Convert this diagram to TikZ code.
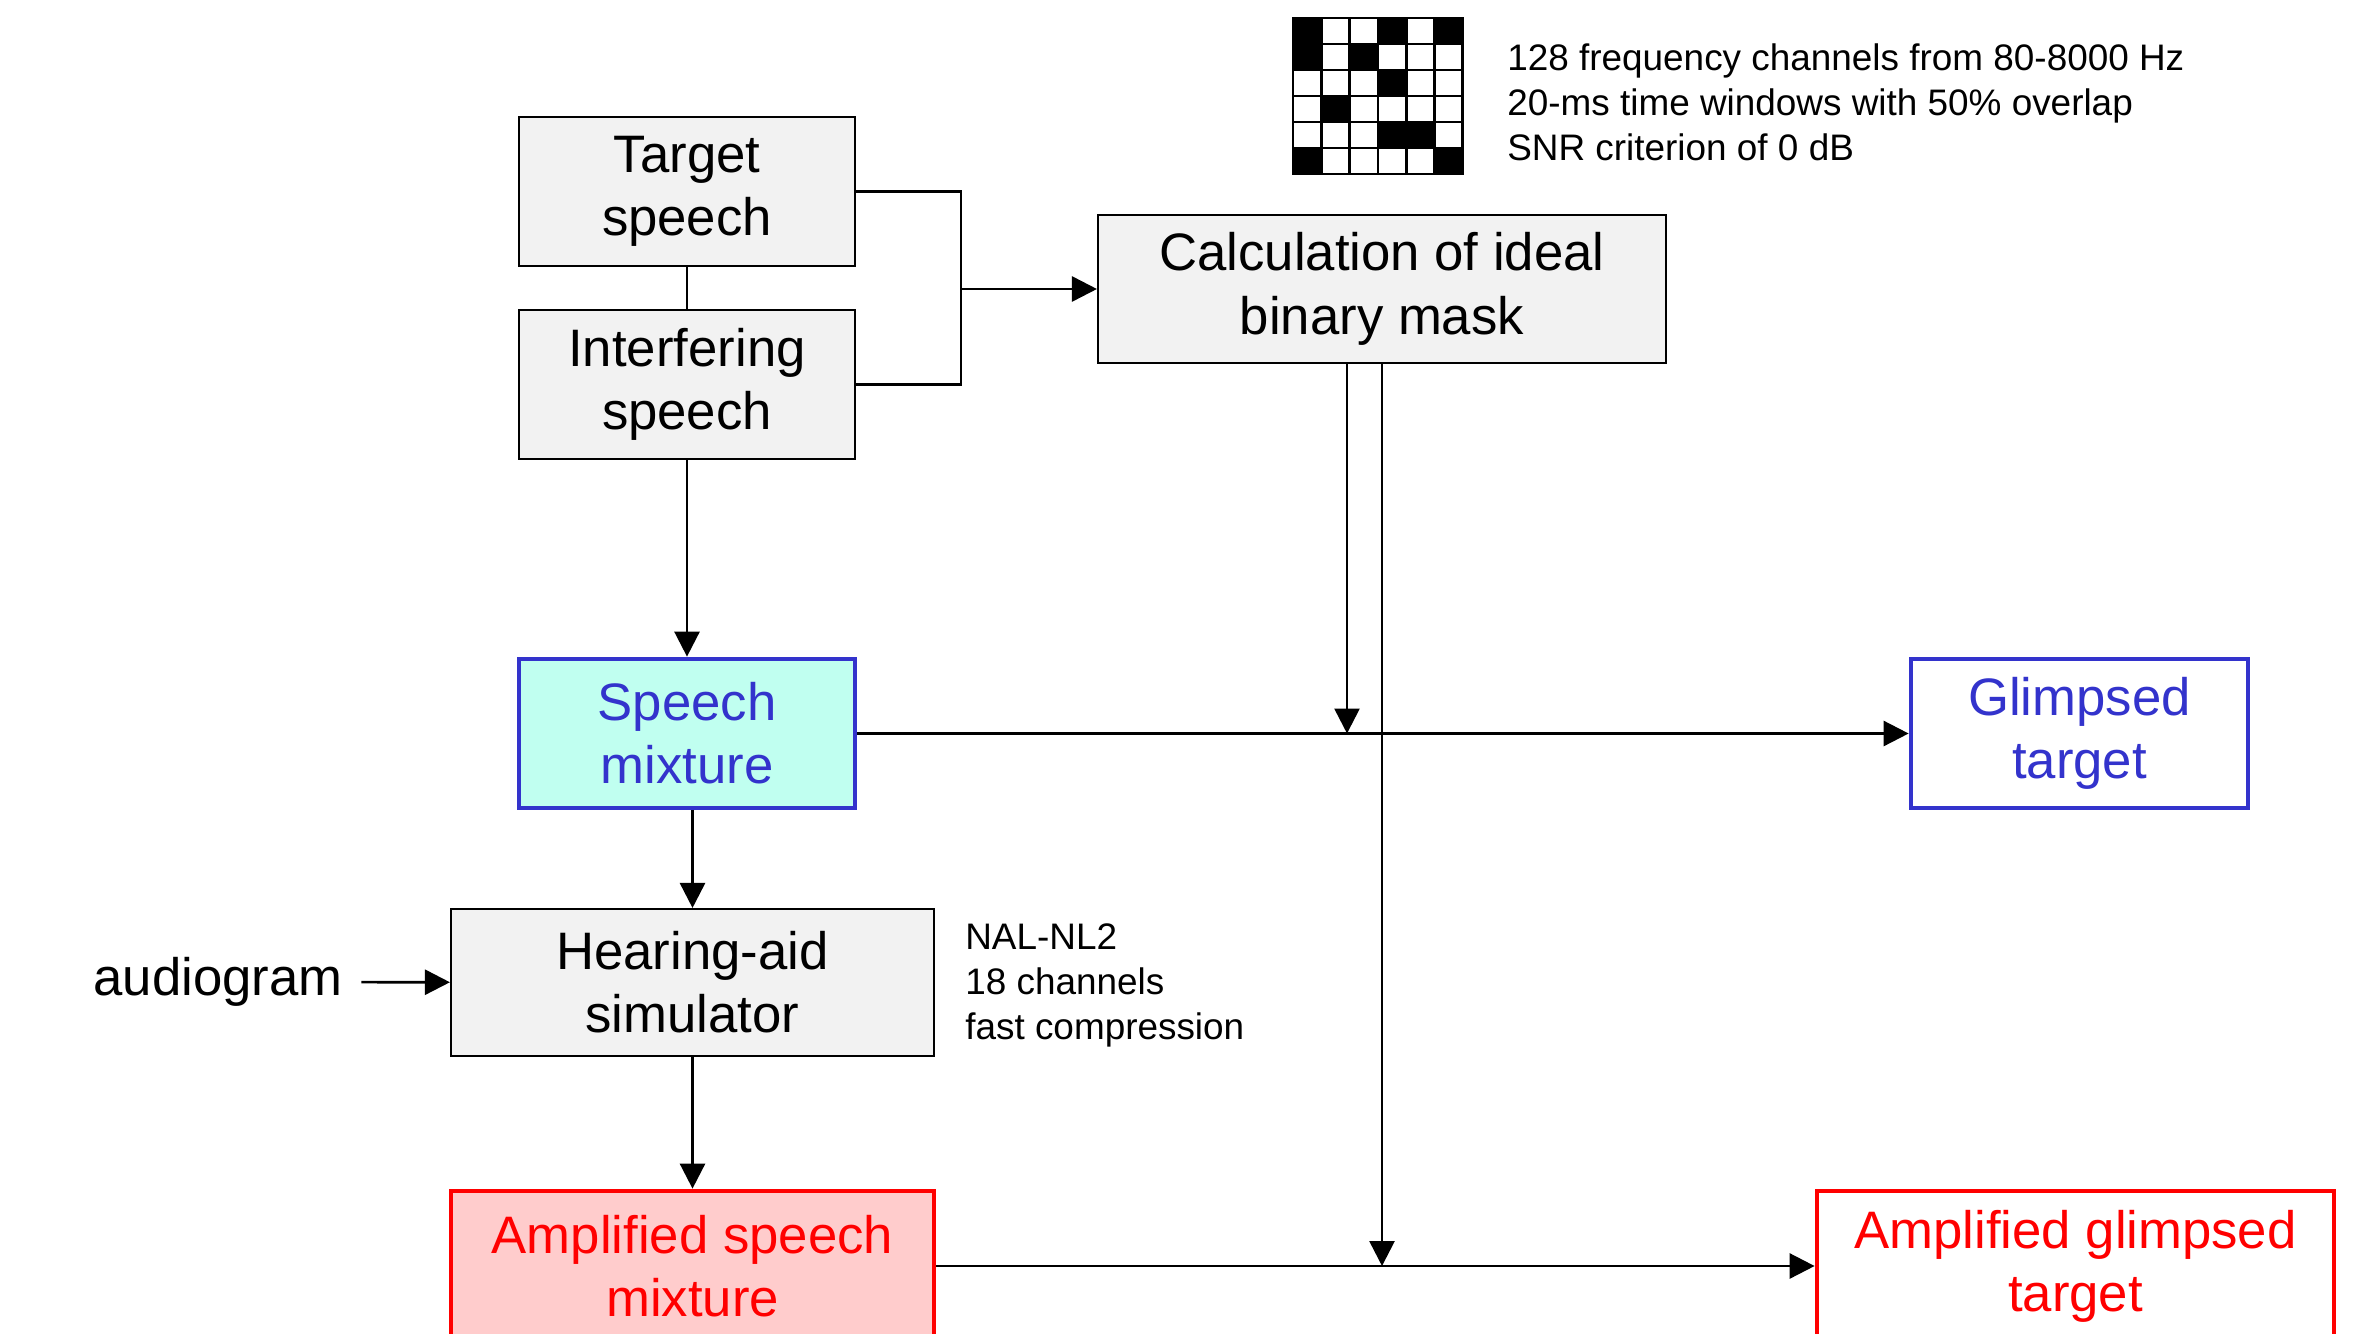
\documentclass[tikz,border=0pt]{standalone}
\usepackage{fontspec}
\setmainfont{Liberation Sans}
\usepackage{tikz}
\usetikzlibrary{arrows.meta}
\usetikzlibrary{calc,positioning}
\definecolor{boxGray}{RGB}{242,242,242}
\definecolor{mixBlue}{RGB}{51,51,204}
\definecolor{mixCyan}{RGB}{192,255,240}
\definecolor{ampRed}{RGB}{255,0,0}
\definecolor{ampPink}{RGB}{255,204,204}

\begin{document}
\begin{tikzpicture}[x=1cm,y=-1cm,line width=0.75pt,
    >={Triangle[length=0.25cm,width=0.25cm]},
    every node/.style={rectangle,inner sep=0pt},
    plainBox/.style={draw,line width=0.6pt,fill=boxGray,align=center,font=\fontsize{15}{18}\selectfont},
    mixBox/.style={draw=mixBlue,line width=1.35pt,text=mixBlue,align=center,font=\fontsize{15}{18}\selectfont},
    ampBox/.style={draw=ampRed,line width=1.35pt,text=ampRed,align=center,font=\fontsize{15}{18}\selectfont},
    note/.style={align=left,anchor=west,font=\fontsize{10.5}{12.8}\selectfont},
    ]
    \useasboundingbox (0,0) rectangle (23.59,13.34);
    \clip (0,0) rectangle (23.59,13.34);

    % sources and mask
    \node[plainBox, minimum width=3.36cm, minimum height=1.49cm] (target) at (6.87,1.915) {Target\\speech};
    \node[plainBox, minimum width=3.36cm, minimum height=1.49cm, below=0.42cm of target] (interferer) {Interfering\\speech};
    \node[plainBox, minimum width=5.68cm, minimum height=1.48cm] (ibm) at (13.82,2.89) {Calculation of ideal\\binary mask};

    % processing chain
    \node[mixBox, fill=mixCyan, minimum width=3.36cm, minimum height=1.49cm] (mixture) at (6.87,7.335) {Speech\\mixture};
    \node[mixBox, fill=white, minimum width=3.37cm, minimum height=1.49cm] (glimpsed) at (20.795,7.335) {Glimpsed\\target};
    \node[plainBox, minimum width=4.83cm, minimum height=1.47cm] (hearingAid) at (6.925,9.825) {Hearing-aid\\simulator};
    \node[ampBox, fill=ampPink, minimum width=4.83cm, minimum height=1.5cm] (ampMixture) at (6.925,12.66) {Amplified speech\\mixture};
    \node[ampBox, fill=white, minimum width=5.17cm, minimum height=1.5cm] (ampGlimpsed) at (20.755,12.66) {Amplified glimpsed\\target};

    \node[font=\fontsize{15}{18}\selectfont, inner sep=5pt] (audiogram) at (2.18,9.82) {audiogram};
    \node[note] (halNote) at (9.64,9.85) {NAL-NL2\\18 channels\\fast compression};
    \node[note] (ibmNote) at (15.06,1.02) {128 frequency channels from 80-8000 Hz\\20-ms time windows with 50\% overlap\\SNR criterion of 0 dB};

    % binary mask pattern
    \foreach \c/\r in {0/0,3/0,5/0,0/1,2/1,3/2,1/3,3/4,4/4,0/5,5/5}
      \fill (12.93+\c*0.283,0.18+\r*0.26) rectangle ++(0.283,0.26);
    \foreach \c in {0,...,5}
      \foreach \r in {0,...,5}
        \draw[line width=0.8pt] (12.93+\c*0.283,0.18+\r*0.26) rectangle ++(0.283,0.26);

    % connectors
    \draw (target) -- (interferer);
    \coordinate (join) at (9.61,2.89);
    \draw (target.east) -| (join |- interferer.east) -- (interferer.east);
    \draw[->] (join) -- (ibm.west);
    \draw[->] (interferer) -- (mixture);
    \draw[->] (mixture.east) -- (glimpsed.west);
    \coordinate (maskOut) at ($(ibm.south)+(-0.35,0)$);
    \draw[->] (maskOut) -- (maskOut |- mixture.east);
    \draw[->] (ibm.south) -- (ibm.south |- ampGlimpsed.west);
    \draw[->] (mixture.south -| hearingAid.north) -- (hearingAid.north);
    \draw[->] (audiogram) -- (hearingAid);
    \draw[->] (hearingAid) -- (ampMixture);
    \draw[->] (ampMixture.east |- ampGlimpsed.west) -- (ampGlimpsed.west);
\end{tikzpicture}
\end{document}
